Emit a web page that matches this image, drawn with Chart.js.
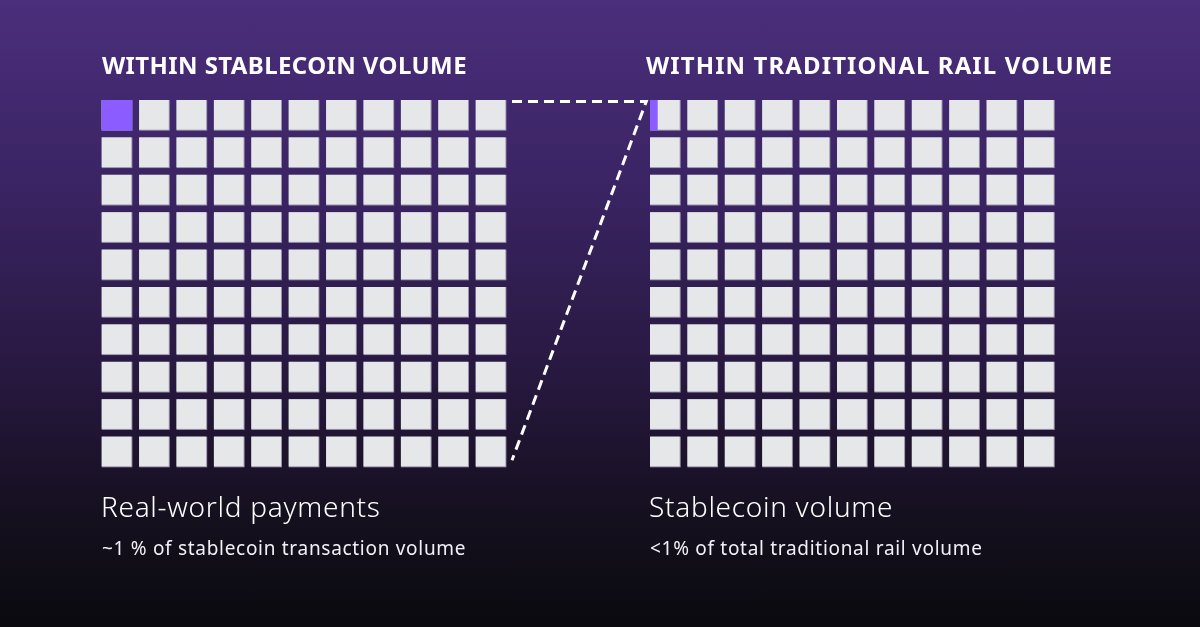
<!DOCTYPE html>
<html>
<head>
<meta charset="utf-8">
<script src="https://cdn.jsdelivr.net/npm/chart.js@4.4.1/dist/chart.umd.min.js"></script>
<style>
  html, body { margin: 0; padding: 0; }
  body {
    width: 1200px; height: 627px; overflow: hidden; position: relative;
    background: linear-gradient(180deg, #4b2e7c 0%, #3a2463 30%, #27183f 60%, #15101f 82%, #0a0a0f 100%);
    font-family: "Noto Sans", "Open Sans", sans-serif; color: #fff;
  }
  #wrap { position: absolute; left: 0; top: 0; width: 1200px; height: 627px; }
  .title { position: absolute; top: 48px; font-weight: 700; font-size: 24px; letter-spacing: 0.6px; white-space: nowrap; }
  .label { position: absolute; top: 487px; font-weight: 300; font-size: 28px; letter-spacing: 0.7px; white-space: nowrap; }
  .note { position: absolute; top: 535px; font-weight: 400; font-size: 19px; letter-spacing: 0.7px; white-space: nowrap; color: #f2f0f6; }
</style>
</head>
<body>
<div id="wrap"><canvas id="waffle" width="1200" height="627"></canvas></div>
<div class="title" style="left:102px; letter-spacing:0.4px">WITHIN STABLECOIN VOLUME</div>
<div class="title" style="left:646px; letter-spacing:1.1px">WITHIN TRADITIONAL RAIL VOLUME</div>
<div class="label" style="left:101px">Real-world payments</div>
<div class="label" style="left:649px">Stablecoin volume</div>
<div class="note" style="left:102px">~1 % of stablecoin transaction volume</div>
<div class="note" style="left:650px">&lt;1% of total traditional rail volume</div>
<script>
// waffle setup
const gridCols = 11;
const gridRows = 10;
const panels = ['Stablecoin volume', 'Traditional rail volume'];
// share of the first cell that is highlighted in each panel
const highlightShare = [1, 0.25];

const cellColor = '#e6e7e9';
const cellEdge = '#9c95ad';
const highlightColor = '#8b5cff';

// grid geometry in column units
const cellSize = 0.82;
const panelOffset = [0, 14.66];

let cells = [];
panels.forEach(function (name, p) {
    for (let r = 0; r < gridRows; r++) {
        for (let c = 0; c < gridCols; c++) {
            cells.push({
                x: panelOffset[p] + c,
                y: r,
                fill: (r === 0 && c === 0) ? highlightShare[p] : 0
            });
        }
    }
});

// dashed connector: top-right of left grid -> top-left of right grid -> bottom-right of left grid
const connector = [
    { x: gridCols - 1 + cellSize + 0.15, y: 0.04 },
    { x: panelOffset[1] - 0.1, y: 0.04 },
    { x: gridCols - 1 + cellSize + 0.15, y: 9.63 }
];

const waffleCells = {
    id: 'waffleCells',
    afterDatasetsDraw(chart) {
        const ctx = chart.ctx;
        const xs = chart.scales.x;
        const ys = chart.scales.y;
        ctx.save();
        chart.data.datasets[0].data.forEach(function (d) {
            const x0 = xs.getPixelForValue(d.x);
            const x1 = xs.getPixelForValue(d.x + cellSize);
            const y0 = ys.getPixelForValue(d.y);
            const y1 = ys.getPixelForValue(d.y + cellSize);
            // subtle edge on right/bottom
            ctx.fillStyle = cellEdge;
            ctx.fillRect(x0, y0, x1 - x0, y1 - y0);
            ctx.fillStyle = cellColor;
            ctx.fillRect(x0, y0, x1 - x0 - 1, y1 - y0 - 1);
            if (d.fill > 0) {
                ctx.fillStyle = highlightColor;
                ctx.fillRect(x0, y0, (x1 - x0) * d.fill, y1 - y0);
            }
        });

        const line = chart.data.datasets[1].data;
        ctx.strokeStyle = '#ffffff';
        ctx.lineWidth = 3;
        ctx.setLineDash([10, 6]);
        ctx.beginPath();
        line.forEach(function (pt, i) {
            const px = xs.getPixelForValue(pt.x);
            const py = ys.getPixelForValue(pt.y);
            if (i === 0) ctx.moveTo(px, py); else ctx.lineTo(px, py);
        });
        ctx.stroke();
        ctx.restore();
    }
};

new Chart(document.getElementById('waffle'), {
    type: 'scatter',
    data: {
        datasets: [
            { label: 'cells', data: cells, pointRadius: 0, showLine: false },
            { label: 'connector', data: connector, pointRadius: 0, showLine: false }
        ]
    },
    options: {
        responsive: false,
        animation: false,
        events: [],
        layout: { padding: { left: 101.7, right: 1200 - 1054.7, top: 100, bottom: 627 - 467.3 } },
        scales: {
            x: { display: false, min: 0, max: panelOffset[1] + gridCols - 1 + cellSize },
            y: { display: false, reverse: true, min: 0, max: gridRows - 1 + cellSize }
        },
        plugins: { legend: { display: false }, tooltip: { enabled: false } }
    },
    plugins: [waffleCells]
});
</script>
</body>
</html>
